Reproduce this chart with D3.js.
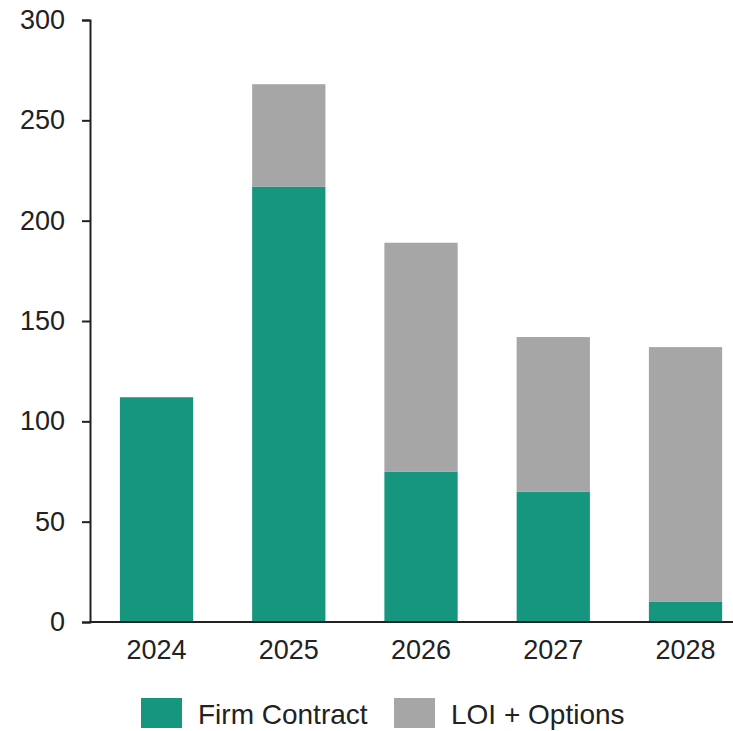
<!DOCTYPE html>
<html>
<head>
<meta charset="utf-8">
<script src="https://cdn.jsdelivr.net/npm/d3@7"></script>
<style>
  html, body { margin: 0; padding: 0; background: #fff; }
  svg { display: block; }
  text { font-family: "Liberation Sans", Arial, sans-serif; }
</style>
</head>
<body>
<svg id="chart" width="733" height="731"></svg>
<script>
// Deliveries per year, split by contract status
const years = ["2024", "2025", "2026", "2027", "2028"];
const firmContract = [112, 217, 75, 65, 10];
const loiOptions = [0, 51, 114, 77, 127];
const seriesNames = ["Firm Contract", "LOI + Options"];
const seriesColors = ["#16967e", "#a6a6a6"];
const yTicks = [0, 50, 100, 150, 200, 250, 300];

const svg = d3.select("#chart");
const plotLeft = 90, plotTop = 20, plotBottom = 622;
const textColor = "#222";
const fontSize = 27;
const legendFontSize = 28;

const rows = years.map((yr, i) => ({
  year: yr,
  "Firm Contract": firmContract[i],
  "LOI + Options": loiOptions[i]
}));
const stacked = d3.stack().keys(seriesNames)(rows);

const x = d3.scaleBand()
  .domain(years)
  .range([plotLeft + 0.4, plotLeft + 0.4 + 5 * 132.25])
  .paddingInner(0.446)
  .paddingOuter(0.223);

const y = d3.scaleLinear().domain([0, 300]).range([plotBottom, plotTop]);
const color = d3.scaleOrdinal().domain(seriesNames).range(seriesColors);

// stacked bars
svg.append("g")
  .selectAll("g")
  .data(stacked)
  .join("g")
  .attr("fill", d => color(d.key))
  .selectAll("rect")
  .data(d => d)
  .join("rect")
  .attr("x", d => x(d.data.year))
  .attr("width", x.bandwidth())
  .attr("y", d => y(d[1]))
  .attr("height", d => y(d[0]) - y(d[1]));

// y axis
const yAxis = svg.append("g")
  .attr("transform", `translate(${plotLeft},0)`)
  .call(d3.axisLeft(y).tickValues(yTicks).tickSize(8).tickPadding(17).tickSizeOuter(8));
yAxis.select(".domain").attr("stroke", textColor).attr("stroke-width", 2);
yAxis.selectAll(".tick line").attr("stroke", textColor).attr("stroke-width", 2);
yAxis.selectAll(".tick text")
  .attr("fill", textColor)
  .style("font-size", fontSize + "px")
  .style("font-family", "'Liberation Sans', Arial, sans-serif");

// x axis
const xAxis = svg.append("g")
  .attr("transform", `translate(0,${plotBottom})`)
  .call(d3.axisBottom(x).tickSize(0).tickPadding(18));
xAxis.select(".domain").remove();
xAxis.append("line")
  .attr("x1", plotLeft - 1).attr("x2", 733)
  .attr("y1", 0).attr("y2", 0)
  .attr("stroke", textColor).attr("stroke-width", 2);
xAxis.selectAll(".tick text")
  .attr("fill", textColor)
  .style("font-size", fontSize + "px")
  .style("font-family", "'Liberation Sans', Arial, sans-serif");

// legend
const legendX = [141, 394];
const legend = svg.append("g")
  .selectAll("g")
  .data(seriesNames)
  .join("g")
  .attr("transform", (d, i) => `translate(${legendX[i]},698)`);
legend.append("rect")
  .attr("width", 41).attr("height", 30)
  .attr("fill", d => color(d));
legend.append("text")
  .attr("x", 57).attr("y", 25.5)
  .attr("fill", textColor)
  .style("font-size", legendFontSize + "px")
  .text(d => d);
</script>
</body>
</html>
